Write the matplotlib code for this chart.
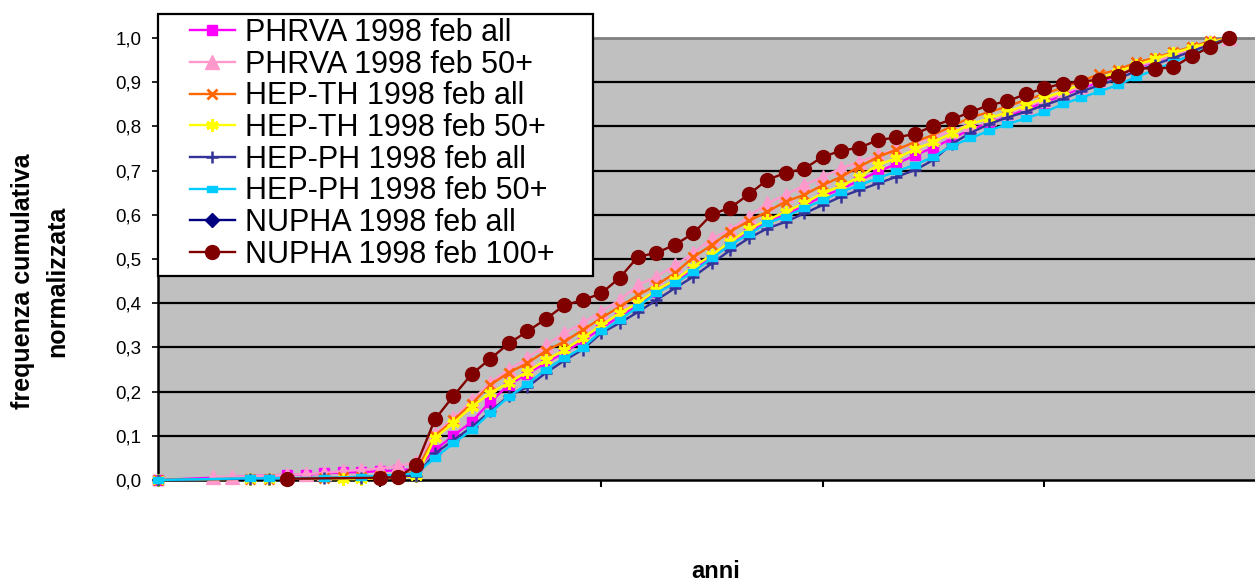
import numpy as np
import matplotlib
matplotlib.use("Agg")
import matplotlib.pyplot as plt
from matplotlib.path import Path
from matplotlib.patches import Rectangle

nan = np.nan

# category index (the x axis has no labels in the original)
categories = list(range(59))

phrva_all = [
    0.000, nan, nan, nan, nan, nan, nan, 0.012, 0.012, 0.015,
    0.017, 0.018, 0.020, 0.022, 0.025, 0.068, 0.100, 0.132, 0.177, 0.215,
    0.240, 0.265, 0.288, 0.315, 0.343, 0.370, 0.395, 0.425, 0.447, 0.476,
    0.503, 0.532, 0.560, 0.585, 0.601, 0.620, 0.642, 0.658, 0.678, 0.698,
    0.715, 0.735, 0.752, 0.772, 0.793, 0.807, 0.822, 0.838, 0.854, 0.870,
    0.886, 0.900, 0.916, 0.932, 0.947, 0.962, 0.975, 0.990, 1.000]

phrva_50 = [
    nan, nan, nan, 0.007, 0.007, nan, nan, 0.012, 0.013, 0.016,
    0.020, 0.023, 0.026, 0.032, 0.040, 0.105, 0.140, 0.180, 0.220, 0.250,
    0.275, 0.305, 0.332, 0.355, 0.381, 0.407, 0.441, 0.460, 0.486, 0.513,
    0.547, 0.566, 0.596, 0.626, 0.645, 0.667, 0.686, 0.705, 0.720, 0.735,
    0.748, 0.762, 0.775, 0.790, 0.805, 0.818, 0.830, 0.845, 0.860, 0.875,
    0.890, 0.905, 0.920, 0.935, 0.948, 0.962, 0.975, 0.990, 1.000]

hepth_all = [
    0.000, nan, nan, nan, nan, 0.003, 0.003, nan, nan, 0.005,
    0.006, 0.007, 0.008, 0.010, 0.020, 0.100, 0.135, 0.173, 0.215, 0.243,
    0.264, 0.292, 0.313, 0.339, 0.366, 0.392, 0.418, 0.441, 0.468, 0.504,
    0.532, 0.562, 0.586, 0.607, 0.630, 0.645, 0.667, 0.686, 0.709, 0.731,
    0.747, 0.765, 0.781, 0.800, 0.820, 0.832, 0.845, 0.860, 0.873, 0.888,
    0.903, 0.918, 0.928, 0.945, 0.955, 0.968, 0.980, 0.993, 1.000]

hepth_50 = [
    0.000, nan, nan, nan, nan, 0.003, 0.003, nan, nan, nan,
    0.002, 0.002, nan, nan, 0.008, 0.095, 0.129, 0.166, 0.197, 0.220,
    0.245, 0.271, 0.294, 0.321, 0.350, 0.377, 0.401, 0.430, 0.452, 0.483,
    0.509, 0.539, 0.568, 0.588, 0.607, 0.626, 0.649, 0.665, 0.686, 0.713,
    0.728, 0.748, 0.765, 0.784, 0.805, 0.818, 0.832, 0.848, 0.864, 0.879,
    0.895, 0.908, 0.924, 0.939, 0.952, 0.966, 0.978, 0.990, 1.000]

hepph_all = [
    0.000, nan, nan, nan, nan, 0.003, 0.003, nan, nan, 0.004,
    nan, 0.005, nan, nan, 0.010, 0.060, 0.090, 0.120, 0.155, 0.190,
    0.210, 0.242, 0.270, 0.295, 0.332, 0.355, 0.380, 0.407, 0.434, 0.460,
    0.490, 0.520, 0.547, 0.569, 0.584, 0.603, 0.622, 0.641, 0.656, 0.671,
    0.686, 0.701, 0.724, 0.760, 0.785, 0.805, 0.820, 0.833, 0.848, 0.862,
    0.879, 0.893, 0.908, 0.925, 0.940, 0.955, 0.970, 0.985, 1.000]

hepph_50 = [
    0.000, nan, nan, nan, nan, 0.004, 0.004, nan, nan, 0.005,
    nan, 0.007, nan, nan, 0.015, 0.050, 0.083, 0.113, 0.152, 0.188,
    0.217, 0.250, 0.276, 0.299, 0.336, 0.362, 0.392, 0.423, 0.445, 0.471,
    0.502, 0.532, 0.556, 0.581, 0.596, 0.615, 0.633, 0.652, 0.667, 0.683,
    0.698, 0.713, 0.731, 0.756, 0.773, 0.790, 0.805, 0.818, 0.832, 0.850,
    0.865, 0.879, 0.894, 0.912, 0.928, 0.945, 0.962, 0.980, 1.000]

# no visible marks for this series in the reference chart
nupha_all = [nan] * 59

nupha_100 = [
    nan, nan, nan, nan, nan, nan, nan, 0.003, nan, nan,
    nan, nan, 0.005, 0.006, 0.034, 0.137, 0.190, 0.240, 0.274, 0.309,
    0.336, 0.364, 0.395, 0.407, 0.422, 0.457, 0.505, 0.514, 0.532, 0.558,
    0.601, 0.616, 0.646, 0.679, 0.695, 0.704, 0.731, 0.745, 0.752, 0.769,
    0.775, 0.783, 0.801, 0.816, 0.832, 0.848, 0.857, 0.873, 0.886, 0.897,
    0.901, 0.906, 0.915, 0.933, 0.930, 0.934, 0.959, 0.980, 1.000]

series_labels = ["PHRVA 1998 feb all", "PHRVA 1998 feb 50+", "HEP-TH 1998 feb all",
                 "HEP-TH 1998 feb 50+", "HEP-PH 1998 feb all", "HEP-PH 1998 feb 50+",
                 "NUPHA 1998 feb all", "NUPHA 1998 feb 100+"]
series_values = [phrva_all, phrva_50, hepth_all, hepth_50,
                 hepph_all, hepph_50, nupha_all, nupha_100]

y_ticks = [0.0, 0.1, 0.2, 0.3, 0.4, 0.5, 0.6, 0.7, 0.8, 0.9, 1.0]
y_tick_labels = ["0,0", "0,1", "0,2", "0,3", "0,4", "0,5", "0,6", "0,7", "0,8", "0,9", "1,0"]
x_tick_positions = [0, 12, 24, 36, 48]

# ---- styles ----
dash_marker = Path([(-1.0, -0.55), (1.0, -0.55), (1.0, 0.55), (-1.0, 0.55), (-1.0, -0.55)],
                   [Path.MOVETO, Path.LINETO, Path.LINETO, Path.LINETO, Path.CLOSEPOLY])
styles = [
    dict(color="#FF00FF", marker="s", ms=7.5, mew=1.0),
    dict(color="#FF99CC", marker="^", ms=10.0, mew=1.0),
    dict(color="#FF6600", marker="x", ms=7.5, mew=2.0),
    dict(color="#FFFF00", marker=(6, 2, 0), ms=9.0, mew=2.2),
    dict(color="#333399", marker="+", ms=8.5, mew=1.8),
    dict(color="#00CCFF", marker=dash_marker, ms=7.0, mew=1.0),
    dict(color="#000080", marker="D", ms=7.0, mew=1.0),
    dict(color="#800000", marker="o", ms=10.0, mew=1.0),
]

plt.rcParams['font.family'] = ['Liberation Sans', 'DejaVu Sans']

W, H = 1255, 583
fig = plt.figure(figsize=(W / 100, H / 100), dpi=100)
fig.patch.set_facecolor("white")

left_px, right_px, top_px, bottom_px = 158, 1255, 38, 480
ax = fig.add_axes([left_px / W, 1 - bottom_px / H,
                   (right_px - left_px) / W, (bottom_px - top_px) / H])
ax.set_facecolor("#C0C0C0")

x = np.array(categories, dtype=float)
handles = []
for vals, lab, st in zip(series_values, series_labels, styles):
    y = np.array(vals, dtype=float)
    m = ~np.isnan(y)
    ln, = ax.plot(x[m], y[m], color=st["color"], lw=1.7, marker=st["marker"],
                  ms=st["ms"], mew=st["mew"], mfc=st["color"], mec=st["color"],
                  label=lab, clip_on=False, zorder=3)
    handles.append(ln)

ax.set_xlim(0, (right_px - left_px) / 18.46)
ax.set_ylim(0, 1.0)

for yv in y_ticks[1:-1]:
    ax.axhline(yv, color="black", lw=1.6, zorder=1)

ax.set_yticks(y_ticks)
ax.set_yticklabels(y_tick_labels, fontsize=13.5)
ax.set_xticks(x_tick_positions)
ax.set_xticklabels([])
ax.tick_params(axis="y", direction="out", length=4, width=1.2, pad=8, colors="black")
ax.tick_params(axis="x", direction="out", length=5, width=1.5, colors="black")

for s in ["left", "bottom"]:
    ax.spines[s].set_color("black")
    ax.spines[s].set_linewidth(1.8)
ax.spines["top"].set_color("#808080")
ax.spines["top"].set_linewidth(2.0)
ax.spines["right"].set_visible(False)

# legend box
fig.patches.append(Rectangle((158 / W, 1 - 276 / H), (593 - 158) / W, (276 - 14) / H,
                             transform=fig.transFigure, facecolor="white",
                             edgecolor="black", lw=1.6, zorder=2))
leg = fig.legend(handles=handles, labels=series_labels, loc="upper left",
                 bbox_to_anchor=(190 / W, 1 - 18 / H), bbox_transform=fig.transFigure,
                 frameon=False, fontsize=22, borderpad=0, borderaxespad=0,
                 handlelength=1.47, handletextpad=0.32, labelspacing=0.055)
leg.set_zorder(5)

fig.text(40 / W, 1 - 281 / H, "frequenza cumulativa\nnormalizzata", rotation=90,
         ha="center", va="center", fontsize=18, fontweight="bold", linespacing=1.55,
         multialignment="center")
fig.text(716 / W, 1 - 572 / H, "anni", ha="center", va="center",
         fontsize=17, fontweight="bold")

fig.savefig("out.png", dpi=100)
